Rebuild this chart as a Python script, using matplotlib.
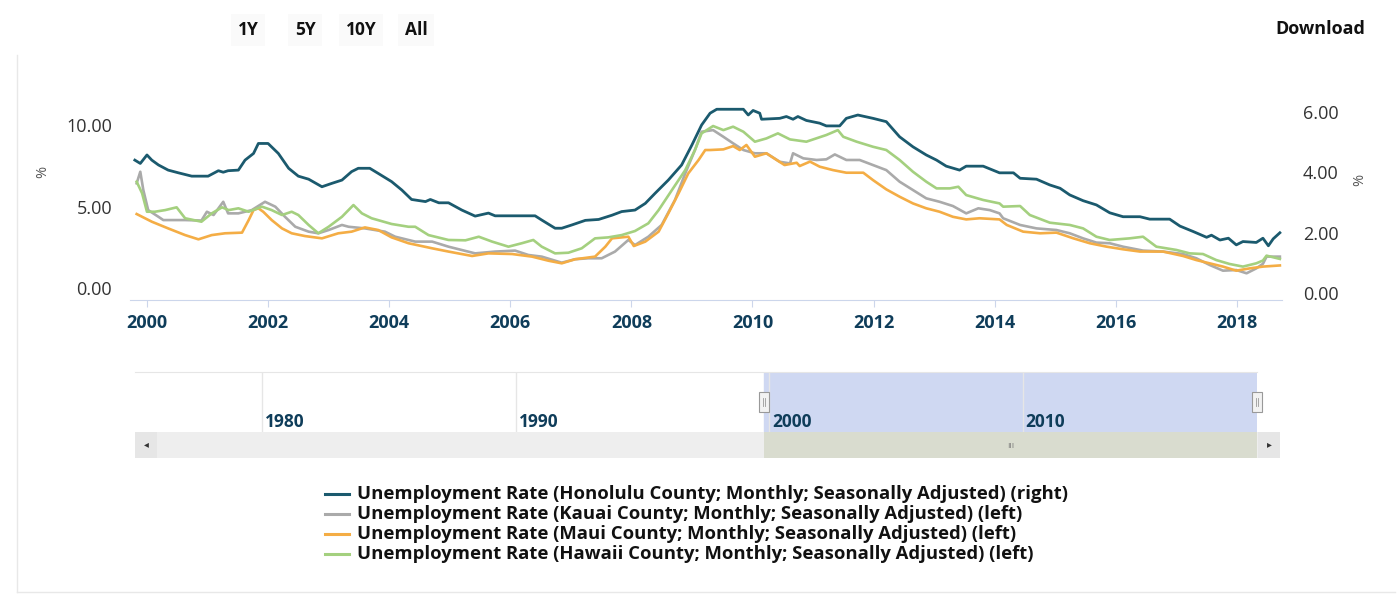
import matplotlib.pyplot as plt
from matplotlib.lines import Line2D
from matplotlib.patches import Rectangle

W, H = 1397, 597

# decimal years / percent
honolulu_x = [1999.80, 1999.89, 2000.00, 2000.08, 2000.19, 2000.35, 2000.52, 2000.74, 2001.01, 2001.18,
              2001.26, 2001.34, 2001.51, 2001.62, 2001.76, 2001.84, 2002.00, 2002.17, 2002.34, 2002.50,
              2002.67, 2002.89, 2003.05, 2003.22, 2003.38, 2003.49, 2003.68, 2003.82, 2004.04, 2004.21,
              2004.37, 2004.60, 2004.68, 2004.82, 2004.98, 2005.20, 2005.42, 2005.64, 2005.75, 2006.41,
              2006.52, 2006.74, 2006.85, 2007.02, 2007.24, 2007.46, 2007.68, 2007.84, 2008.06, 2008.23,
              2008.39, 2008.61, 2008.83, 2009.00, 2009.16, 2009.30, 2009.41, 2009.85, 2009.93, 2010.01,
              2010.12, 2010.15, 2010.45, 2010.56, 2010.67, 2010.75, 2010.89, 2011.11, 2011.22, 2011.44,
              2011.55, 2011.74, 2011.99, 2012.21, 2012.43, 2012.65, 2012.87, 2013.04, 2013.20, 2013.42,
              2013.53, 2013.81, 2014.08, 2014.31, 2014.42, 2014.69, 2014.91, 2015.08, 2015.24, 2015.46,
              2015.68, 2015.90, 2016.12, 2016.40, 2016.56, 2016.89, 2017.06, 2017.28, 2017.50, 2017.58,
              2017.72, 2017.86, 2017.99, 2018.10, 2018.32, 2018.43, 2018.52, 2018.60, 2018.71]
honolulu_y = [4.40, 4.29, 4.57, 4.40, 4.24, 4.07, 3.98, 3.87, 3.87, 4.05,
              4.00, 4.05, 4.07, 4.40, 4.62, 4.95, 4.95, 4.62, 4.13, 3.87,
              3.77, 3.52, 3.63, 3.74, 4.02, 4.13, 4.13, 3.96, 3.69, 3.41,
              3.10, 3.03, 3.10, 2.99, 2.99, 2.75, 2.55, 2.65, 2.56, 2.56,
              2.42, 2.15, 2.15, 2.26, 2.41, 2.44, 2.58, 2.70, 2.75, 2.97,
              3.30, 3.74, 4.24, 4.90, 5.56, 5.95, 6.08, 6.08, 5.89, 6.04,
              5.95, 5.75, 5.78, 5.84, 5.75, 5.84, 5.71, 5.62, 5.53, 5.53,
              5.78, 5.89, 5.78, 5.67, 5.17, 4.84, 4.57, 4.40, 4.20, 4.07,
              4.20, 4.20, 3.98, 3.98, 3.80, 3.77, 3.58, 3.47, 3.25, 3.06,
              2.92, 2.66, 2.53, 2.53, 2.45, 2.45, 2.22, 2.04, 1.85, 1.92,
              1.76, 1.82, 1.60, 1.71, 1.68, 1.82, 1.57, 1.80, 2.00]

kauai_x = [1999.83, 1999.89, 1999.94, 2000.02, 2000.19, 2000.27, 2000.63, 2000.90, 2000.99, 2001.10,
           2001.26, 2001.34, 2001.51, 2001.73, 2001.95, 2002.12, 2002.28, 2002.45, 2002.67, 2002.83,
           2003.00, 2003.22, 2003.33, 2003.60, 2003.93, 2004.10, 2004.32, 2004.43, 2004.71, 2004.98,
           2005.42, 2005.75, 2006.08, 2006.30, 2006.52, 2006.85, 2007.07, 2007.29, 2007.51, 2007.73,
           2007.95, 2008.06, 2008.28, 2008.50, 2008.72, 2008.89, 2009.05, 2009.16, 2009.35, 2009.52,
           2009.68, 2009.85, 2010.04, 2010.23, 2010.45, 2010.62, 2010.67, 2010.84, 2011.06, 2011.22,
           2011.36, 2011.55, 2011.77, 2011.99, 2012.21, 2012.43, 2012.65, 2012.87, 2013.09, 2013.31,
           2013.53, 2013.73, 2013.92, 2014.08, 2014.14, 2014.42, 2014.69, 2015.02, 2015.24, 2015.46,
           2015.68, 2015.90, 2016.12, 2016.45, 2016.78, 2017.11, 2017.33, 2017.55, 2017.77, 2017.99,
           2018.16, 2018.32, 2018.43, 2018.49, 2018.71]
kauai_y = [6.43, 7.14, 6.02, 4.79, 4.38, 4.18, 4.18, 4.15, 4.69, 4.49,
           5.30, 4.59, 4.59, 4.79, 5.30, 5.00, 4.38, 3.77, 3.47, 3.37,
           3.57, 3.88, 3.77, 3.67, 3.47, 3.16, 2.96, 2.86, 2.86, 2.55,
           2.14, 2.25, 2.31, 2.04, 1.94, 1.57, 1.78, 1.84, 1.84, 2.25,
           2.96, 2.65, 3.16, 3.88, 5.41, 7.04, 8.47, 9.59, 9.69, 9.28,
           8.88, 8.47, 8.27, 8.27, 7.75, 7.65, 8.27, 7.96, 7.86, 7.90,
           8.20, 7.86, 7.86, 7.55, 7.24, 6.53, 6.02, 5.51, 5.30, 5.04,
           4.59, 4.90, 4.79, 4.59, 4.29, 3.88, 3.67, 3.57, 3.37, 3.06,
           2.80, 2.76, 2.55, 2.31, 2.25, 2.10, 1.84, 1.43, 1.08, 1.12,
           0.92, 1.22, 1.50, 1.94, 1.94]

maui_x = [1999.83, 2000.08, 2000.35, 2000.63, 2000.85, 2001.07, 2001.29, 2001.57, 2001.68, 2001.76,
          2001.84, 2001.92, 2002.06, 2002.23, 2002.39, 2002.61, 2002.89, 2003.16, 2003.38, 2003.60,
          2003.82, 2004.04, 2004.32, 2004.71, 2004.98, 2005.37, 2005.64, 2006.03, 2006.36, 2006.63,
          2006.85, 2007.07, 2007.40, 2007.57, 2007.68, 2007.95, 2008.04, 2008.23, 2008.45, 2008.61,
          2008.78, 2008.94, 2009.11, 2009.22, 2009.30, 2009.52, 2009.68, 2009.79, 2009.90, 2010.04,
          2010.23, 2010.40, 2010.53, 2010.73, 2010.78, 2010.95, 2011.11, 2011.33, 2011.55, 2011.83,
          2011.99, 2012.21, 2012.43, 2012.65, 2012.87, 2013.09, 2013.31, 2013.53, 2013.75, 2014.08,
          2014.20, 2014.47, 2014.75, 2015.02, 2015.30, 2015.57, 2015.85, 2016.12, 2016.40, 2016.78,
          2017.11, 2017.33, 2017.55, 2017.77, 2017.99, 2018.21, 2018.43, 2018.71]
maui_y = [4.55, 4.08, 3.67, 3.26, 3.00, 3.26, 3.37, 3.41, 4.18, 4.79,
          4.90, 4.69, 4.18, 3.67, 3.37, 3.20, 3.06, 3.37, 3.47, 3.73,
          3.57, 3.12, 2.76, 2.45, 2.25, 1.98, 2.14, 2.10, 1.94, 1.69,
          1.53, 1.78, 1.94, 2.55, 3.06, 3.16, 2.59, 2.86, 3.47, 4.59,
          5.82, 7.04, 7.86, 8.47, 8.47, 8.51, 8.71, 8.47, 8.78, 8.06,
          8.27, 7.86, 7.55, 7.69, 7.49, 7.76, 7.45, 7.24, 7.08, 7.08,
          6.63, 6.06, 5.61, 5.20, 4.90, 4.69, 4.38, 4.22, 4.29, 4.22,
          3.88, 3.47, 3.37, 3.41, 3.06, 2.76, 2.55, 2.39, 2.25, 2.25,
          1.98, 1.73, 1.53, 1.33, 1.08, 1.22, 1.33, 1.40]

hawaii_x = [1999.83, 1999.92, 2000.00, 2000.13, 2000.30, 2000.49, 2000.63, 2000.90, 2001.07, 2001.24,
            2001.35, 2001.51, 2001.68, 2001.90, 2002.06, 2002.23, 2002.39, 2002.50, 2002.67, 2002.83,
            2003.00, 2003.22, 2003.41, 2003.55, 2003.71, 2004.04, 2004.32, 2004.43, 2004.65, 2004.98,
            2005.26, 2005.48, 2005.70, 2005.97, 2006.19, 2006.38, 2006.52, 2006.74, 2006.96, 2007.18,
            2007.40, 2007.62, 2007.84, 2008.06, 2008.28, 2008.45, 2008.67, 2008.89, 2009.05, 2009.16,
            2009.35, 2009.52, 2009.68, 2009.85, 2010.04, 2010.23, 2010.42, 2010.62, 2010.89, 2011.22,
            2011.41, 2011.50, 2011.72, 2011.99, 2012.21, 2012.43, 2012.65, 2012.87, 2013.04, 2013.26,
            2013.40, 2013.53, 2013.81, 2014.08, 2014.14, 2014.42, 2014.58, 2014.91, 2015.24, 2015.46,
            2015.68, 2015.90, 2016.23, 2016.45, 2016.67, 2017.00, 2017.22, 2017.44, 2017.66, 2017.88,
            2018.10, 2018.32, 2018.43, 2018.49, 2018.71]
hawaii_y = [6.53, 5.82, 4.69, 4.69, 4.79, 4.96, 4.29, 4.08, 4.59, 4.96,
            4.79, 4.90, 4.69, 5.00, 4.79, 4.49, 4.69, 4.49, 3.88, 3.37,
            3.77, 4.38, 5.10, 4.59, 4.29, 3.94, 3.77, 3.77, 3.26, 2.96,
            2.94, 3.16, 2.86, 2.55, 2.76, 2.96, 2.55, 2.14, 2.18, 2.45,
            3.06, 3.12, 3.26, 3.51, 3.98, 4.79, 6.02, 7.24, 8.47, 9.49,
            9.94, 9.69, 9.90, 9.59, 8.98, 9.18, 9.49, 9.12, 8.98, 9.39,
            9.69, 9.28, 8.98, 8.67, 8.47, 7.86, 7.14, 6.53, 6.12, 6.12,
            6.22, 5.71, 5.41, 5.20, 5.00, 5.04, 4.49, 4.02, 3.88, 3.67,
            3.16, 2.96, 3.06, 3.16, 2.55, 2.35, 2.14, 2.10, 1.73, 1.49,
            1.33, 1.53, 1.70, 2.00, 1.80]

labels = ['Unemployment Rate (Honolulu County; Monthly; Seasonally Adjusted) (right)',
          'Unemployment Rate (Kauai County; Monthly; Seasonally Adjusted) (left)',
          'Unemployment Rate (Maui County; Monthly; Seasonally Adjusted) (left)',
          'Unemployment Rate (Hawaii County; Monthly; Seasonally Adjusted) (left)']
colors = ['#1b5a6e', '#aaaaaa', '#f4ad45', '#a4d07f']

year_ticks = list(range(2000, 2019, 2))
left_ticks = [0, 5, 10]
right_ticks = [0, 2, 4, 6]
nav_ticks = [1980, 1990, 2000, 2010]
buttons = ['1Y', '5Y', '10Y', 'All']

NAVY = '#0f3d5a'
AXIS = '#ccd6eb'


def box(x0, y0, x1, y1):
    # pixel box (top-left origin) -> figure fraction rect
    return [x0 / W, 1 - y1 / H, (x1 - x0) / W, (y1 - y0) / H]


plt.rcParams['font.family'] = ['Open Sans', 'DejaVu Sans']
fig = plt.figure(figsize=(W / 100, H / 100), dpi=100)

# main chart
ax = fig.add_axes(box(130, 95, 1282, 300))
ax2 = ax.twinx()

ax.plot(kauai_x, kauai_y, color=colors[1], lw=1.9, zorder=2)
ax.plot(maui_x, maui_y, color=colors[2], lw=1.9, zorder=3)
ax.plot(hawaii_x, hawaii_y, color=colors[3], lw=1.9, zorder=4)
ax2.plot(honolulu_x, honolulu_y, color=colors[0], lw=2.0)

ax.set_xlim(1999.72, 2018.745)
ax.set_ylim(-0.716, 11.84)
ax2.set_ylim(-0.221, 6.551)

ax.set_xticks(year_ticks)
ax.set_xticklabels([str(y) for y in year_ticks], fontweight='bold', color=NAVY, fontsize=13)
ax.tick_params(axis='x', length=5, color=AXIS, pad=5)

ax.set_yticks(left_ticks)
ax.set_yticklabels(['%.2f' % v for v in left_ticks], color='#333333', fontsize=13)
ax.tick_params(axis='y', length=0, pad=13)
ax2.set_yticks(right_ticks)
ax2.set_yticklabels(['%.2f' % v for v in right_ticks], color='#333333', fontsize=13)
ax2.tick_params(axis='y', length=0, pad=15)

for a in (ax, ax2):
    for s in ('top', 'left', 'right'):
        a.spines[s].set_visible(False)
    a.spines['bottom'].set_color(AXIS)
ax2.spines['bottom'].set_visible(False)
ax.patch.set_visible(False)

fig.text(43 / W, 1 - 172 / H, '%', rotation=90, ha='center', va='center', color='#555555', fontsize=10.5)
fig.text(1360 / W, 1 - 180 / H, '%', rotation=90, ha='center', va='center', color='#555555', fontsize=10.5)

# range buttons and download
for b, bx in zip(buttons, [248, 305, 361, 416]):
    fig.text(bx / W, 1 - 30 / H, b, ha='center', va='center', fontweight='bold', fontsize=12.5,
             color='#111111', bbox=dict(boxstyle='square,pad=0.4', fc='#fafafa', ec='none'))
fig.text(1320 / W, 1 - 29 / H, 'Download', ha='center', va='center', fontweight='bold',
         fontsize=13, color='#111111')

# navigator
nav = fig.add_axes(box(135, 372, 1257, 432))
nav.set_xlim(1974.99, 2019.25)
nav.set_ylim(0, 1)
nav.set_xticks([])
nav.set_yticks([])
for s in ('left', 'right', 'bottom'):
    nav.spines[s].set_visible(False)
nav.spines['top'].set_color('#e6e6e6')
sel_start = honolulu_x[0]
nav.axvspan(sel_start, 2019.25, color='#cfd8f2', zorder=0)
for t in nav_ticks:
    nav.axvline(t, color='#e6e6e6', lw=1, zorder=1)
    nav.text(t + 0.12, 0.17, str(t), ha='left', va='center', fontweight='bold', color=NAVY,
             fontsize=12.5, zorder=3)
for hx in (sel_start, 2019.25):
    nav.add_patch(Rectangle((hx - 0.18, 0.33), 0.36, 0.34, fc='#f2f2f2', ec='#999999',
                            lw=0.8, clip_on=False, zorder=5))
    for off in (-0.05, 0.05):
        nav.plot([hx + off, hx + off], [0.43, 0.57], color='#999999', lw=0.6,
                 clip_on=False, zorder=6)

# scrollbar
sb = fig.add_axes(box(135, 432, 1280, 458))
sb.set_xlim(135, 1280)
sb.set_ylim(0, 1)
sb.axis('off')
sb.add_patch(Rectangle((135, 0), 1145, 1, fc='#eeeeee', ec='none'))
thumb0 = 135 + (sel_start - 1974.99) / (2019.25 - 1974.99) * (1257 - 135)
sb.add_patch(Rectangle((thumb0, 0), 1257 - thumb0, 1, fc='#d9dccf', ec='none'))
sb.add_patch(Rectangle((135, 0), 22, 1, fc='#e6e6e6', ec='none'))
sb.add_patch(Rectangle((1258, 0), 22, 1, fc='#e6e6e6', ec='none'))
sb.text(146, 0.5, '\u25c2', ha='center', va='center', fontsize=7, color='#333333')
sb.text(1269, 0.5, '\u25b8', ha='center', va='center', fontsize=7, color='#333333')
sb.text((thumb0 + 1257) / 2, 0.45, 'III', ha='center', va='center', fontsize=6, color='#777777')

# legend
for i, (lab, c) in enumerate(zip(labels, colors)):
    y = 1 - (494 + 20 * i) / H
    fig.add_artist(Line2D([325 / W, 349 / W], [y, y], color=c, lw=2.2))
    fig.text(357 / W, y, lab, ha='left', va='center', fontweight='bold', fontsize=13.3,
             color='#111111')

# panel border
fig.add_artist(Line2D([17 / W, 17 / W], [1 - 55 / H, 1 - 592 / H], color='#e8e8e8', lw=1))
fig.add_artist(Line2D([17 / W, 1395 / W], [1 - 592 / H, 1 - 592 / H], color='#e8e8e8', lw=1))

fig.savefig('out.png', dpi=100)
